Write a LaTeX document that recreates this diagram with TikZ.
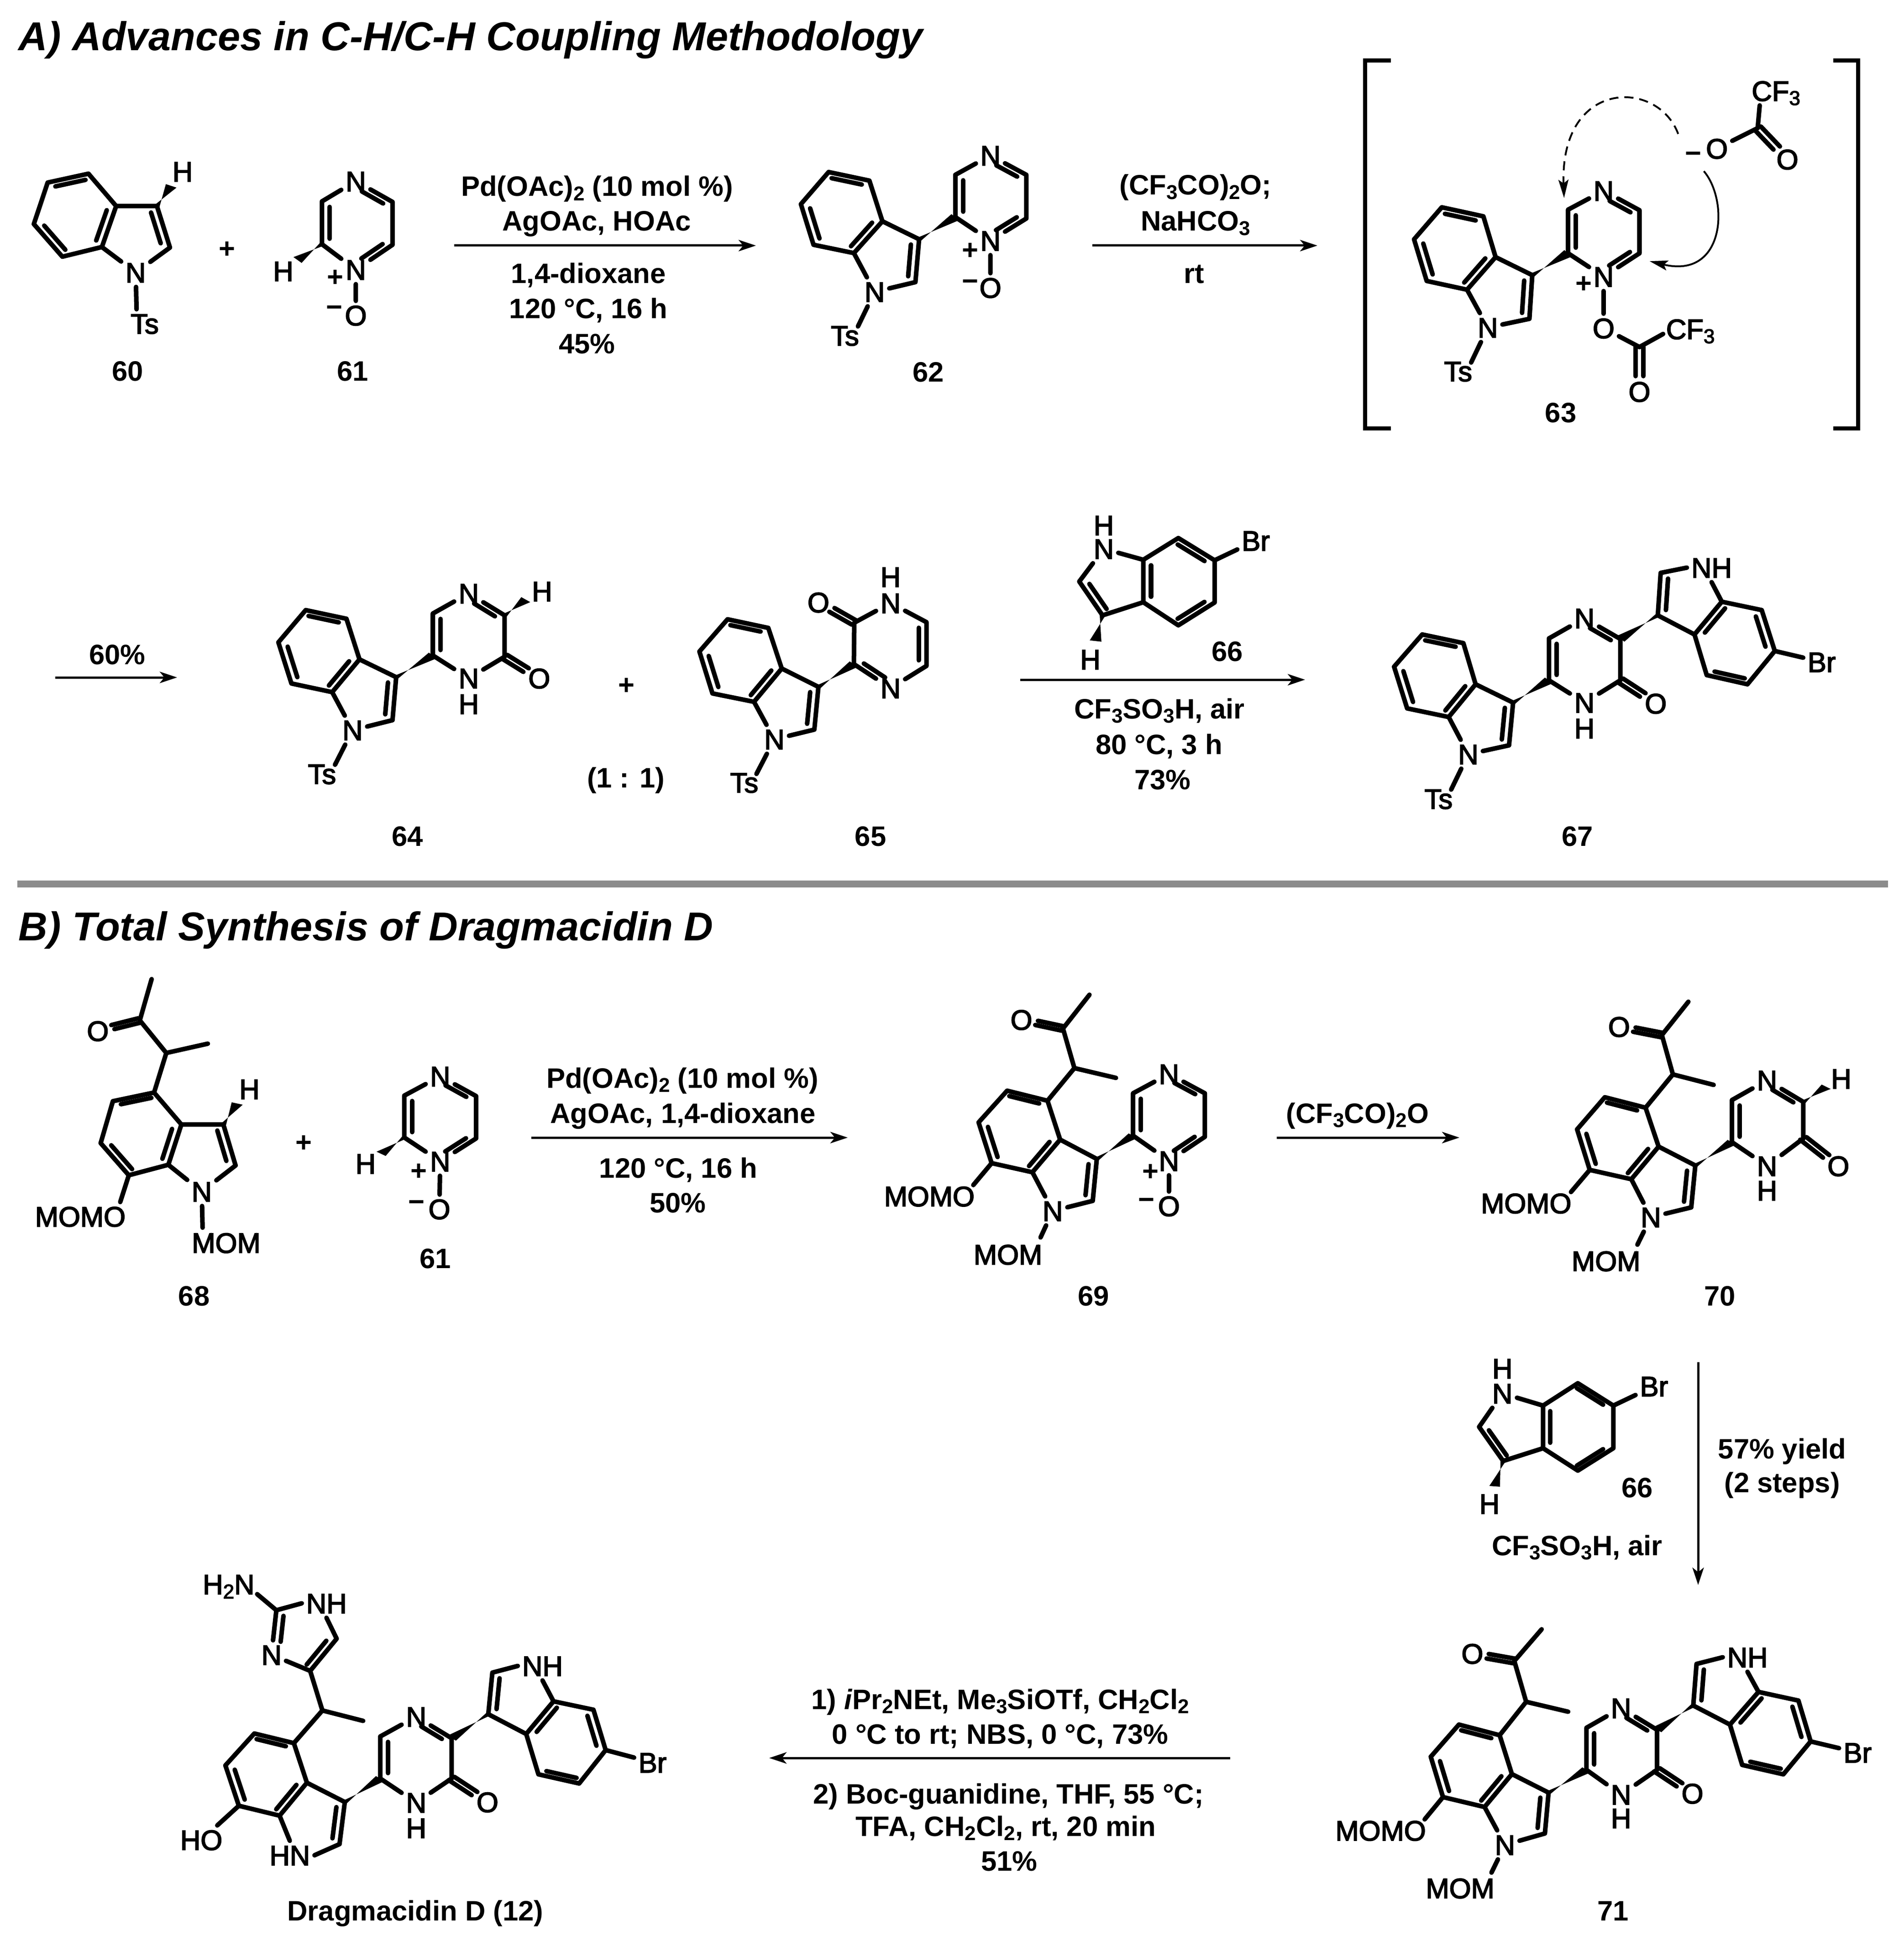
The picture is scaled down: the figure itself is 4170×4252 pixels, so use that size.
\documentclass[tikz,border=0pt]{standalone}
\usepackage{fontspec}
\setmainfont{Liberation Sans}
\newfontfamily\chemfont{Liberation Sans}[FakeBold=3]
\usetikzlibrary{arrows.meta,calc}

\newcommand{\low}[1]{\raisebox{-0.28ex}{\fontsize{12.5}{12.5}\selectfont #1}}
\tikzset{
  view/.style n args={4}{shift={(#1,#2)},xscale=#3,yscale=#4},
  bondline/.style={line width=0.1cm,line cap=round,line join=round},
  atom/.style={inner sep=0.09cm,text height=0.44cm,text depth=0pt,font=\chemfont\fontsize{17.5}{21}\selectfont},
  charge/.style={inner sep=0pt,text height=0.40cm,text depth=0pt,font=\bfseries\fontsize{17.5}{21}\selectfont},
  cmpd/.style={inner sep=0pt,font=\bfseries\fontsize{17.5}{21}\selectfont},
  reag/.style={anchor=base,inner sep=0pt,font=\bfseries\fontsize{17.5}{21}\selectfont},
  heading/.style={anchor=base west,inner sep=0pt,font=\bfseries\itshape\fontsize{25.1}{30}\selectfont},
  rxn/.style={line width=0.05cm,-{Stealth[length=0.38cm,width=0.25cm,inset=0.1cm]}},
  curly/.style={line width=0.04cm,-{Stealth[length=0.4cm,width=0.22cm,inset=0.08cm]}},
  bracket/.style={line width=0.09cm,line cap=butt,line join=miter},
}
\newcommand{\place}[2]{\foreach \n/\x/\y in {#2}{\coordinate (#1\n) at (\x,\y);}}
\newcommand{\dbl}[3]{\draw[bondline] ($(#1)!.13!(#2)!0.19cm!#3:(#2)$) -- ($(#1)!.87!(#2)!0.19cm!#3:(#2)$);}
\newcommand{\dbln}[3]{\draw[bondline] ($(#1)!.12!(#2)!0.19cm!#3:(#2)$) -- ($(#1)!.70!(#2)!0.19cm!#3:(#2)$);}
\newcommand{\cdbl}[2]{\draw[bondline,shorten >=0.34cm] ($(#1)!0.095cm!90:(#2)$) -- ($(#2)!0.095cm!-90:(#1)$);
  \draw[bondline,shorten >=0.34cm] ($(#1)!0.095cm!-90:(#2)$) -- ($(#2)!0.095cm!90:(#1)$);}
\newcommand{\wdg}[2]{\fill ($(#1)!0.07cm!90:(#2)$) -- ($(#2)!0.145cm!90:(#1)$) -- ($(#2)!0.145cm!-90:(#1)$) -- ($(#1)!0.07cm!-90:(#2)$) -- cycle;}
% indole, N-bonds go to #2 and #3
\newcommand{\indole}[3]{\draw[bondline] (#1bF) -- (#1bA) -- (#1bB) -- (#1bC) -- (#1bD) -- (#1bE) -- (#1bF) -- (#1cT) -- (#1cU) -- (#2);
  \draw[bondline] (#1bE) -- (#3);
  \dbl{#1bA}{#1bB}{90} \dbl{#1bC}{#1bD}{90} \dbl{#1bE}{#1bF}{90} \dbl{#1cT}{#1cU}{-90}}
% bromoindole
\newcommand{\brindole}[3]{\draw[bondline] (#1iA) -- (#1iB) -- (#1iC) -- (#1iD) -- (#1iE) -- (#1iF) -- (#1iA);
  \draw[bondline] (#1iF) -- (#1iT) -- (#1iU) -- (#2);
  \draw[bondline] (#1iA) -- (#3);
  \draw[bondline] (#1iC) -- (#1br);
  \dbl{#1iA}{#1iF}{90} \dbl{#1iB}{#1iC}{-90} \dbl{#1iD}{#1iE}{-90} \dbl{#1iT}{#1iU}{-90}}
% pyrazine rings
\newcommand{\pyrox}[1]{\draw[bondline] (#1pN) -- (#1pD) -- (#1pC) -- (#1pM) -- (#1pB) -- (#1pA) -- (#1pN);
  \dbl{#1pD}{#1pC}{90} \dbln{#1pB}{#1pM}{-90} \dbln{#1pA}{#1pN}{90}}
\newcommand{\pyrone}[1]{\draw[bondline] (#1pN) -- (#1pD) -- (#1pC) -- (#1pM) -- (#1pB) -- (#1pA) -- (#1pN);
  \dbl{#1pD}{#1pC}{90} \dbln{#1pA}{#1pN}{90} \cdbl{#1pB}{#1pO}}
% butanone side chain
\newcommand{\sidechain}[1]{\draw[bondline] (#1bA) -- (#1cH) -- (#1cK) -- (#1mB);
  \draw[bondline] (#1cH) -- (#1mA);
  \cdbl{#1cK}{#1oK}}

\begin{document}
\begin{tikzpicture}[x=0.01cm,y=-0.01cm]
\useasboundingbox (0,0) rectangle (4170,4252);

% headings and separator
\node[heading] (headA) at (40,111) {A) Advances in C-H/C-H Coupling Methodology};
\node[heading] (headB) at (40,2060) {B) Total Synthesis of Dragmacidin D};
\fill[black!45] (38,1929) rectangle (4136,1944);

% 60 and 61
\begin{scope}[view={0}{0}{.8929}{.6059}]
  \place{m60}{bA/217/628,bB/117/660,bC/83/810,bD/153/928,bE/250/893,bF/285/745,cT/385/745,cU/417/895,wH/420/672,eT/335/1118}
  \node[atom] (m60nI) at (333,985) {N};
  \node[atom] (m60h) at (448,620) {H};
  \node[atom] (m60ts) at (355,1170) {Ts};
  \indole{m60}{m60nI}{m60nI}
  \draw[bondline] (m60nI) -- (m60eT);
  \wdg{m60cT}{m60wH}
  \node[cmpd] (l60) at (313,1342) {60};
  \node[charge] (plusA) at (557,900) {+};
  \place{m61}{pD/790/728,pC/790/883,pB/963/885,pA/963/730,wH/730/940}
  \node[atom] (m61pN) at (873,655) {N};
  \node[atom] (m61pM) at (873,975) {N};
  \node[atom] (m61o) at (873,1140) {O};
  \node[atom] (m61h) at (695,980) {H};
  \node[charge] (m61p) at (823,1003) {+};
  \node[charge] (m61m) at (820,1112) {−};
  \pyrox{m61}
  \draw[bondline] (m61pM) -- (m61o);
  \wdg{m61pC}{m61wH}
  \node[cmpd] (l61) at (865,1342) {61};
\end{scope}

% first arrow
\coordinate (a1s) at (995,538);
\coordinate (a1e) at (1656,538);
\draw[rxn] (a1s) -- (a1e);
\node[reag] (r1a) at (1308,430) {Pd(OAc)\low{2} (10 mol \%)};
\node[reag] (r1b) at (1307,506) {AgOAc, HOAc};
\node[reag] (r1c) at (1289,620) {1,4-dioxane};
\node[reag] (r1d) at (1289,697) {120 °C, 16 h};
\node[reag] (r1e) at (1286,774) {45\%};

% 62
\begin{scope}[view={1400}{0}{.8929}{.6059}]
  \place{m62}{bA/565/653,bB/465/622,bC/397/738,bD/428/885,bE/527/915,bF/597/800,cT/687/865,cU/678/1020,eT/537/1180,pD/776/632,pC/776/785,pB/950/790,pA/950/632}
  \node[atom] (m62nI) at (578,1055) {N};
  \node[atom] (m62ts) at (505,1213) {Ts};
  \indole{m62}{m62nI}{m62nI}
  \draw[bondline] (m62nI) -- (m62eT);
  \node[atom] (m62pN) at (862,562) {N};
  \node[atom] (m62pM) at (862,870) {N};
  \node[atom] (m62o) at (862,1040) {O};
  \node[charge] (m62p) at (813,905) {+};
  \node[charge] (m62m) at (813,1017) {−};
  \pyrox{m62}
  \draw[bondline] (m62pM) -- (m62o);
  \wdg{m62cT}{m62pC}
  \node[cmpd] (l62) at (710,1345) {62};
\end{scope}

% second arrow
\coordinate (a2s) at (2393,538);
\coordinate (a2e) at (2886,538);
\draw[rxn] (a2s) -- (a2e);
\node[reag] (r2a) at (2619,427) {(CF\low{3}CO)\low{2}O;};
\node[reag] (r2b) at (2619,506) {NaHCO\low{3}};
\node[reag] (r2c) at (2616,620) {rt};

% 63 in brackets
\begin{scope}[view={2770}{0}{.8929}{.6378}]
  \place{brL}{a/310/207,b/247/207,c/247/1472,d/310/1472}
  \place{brR}{a/1395/207,b/1457/207,c/1457/1472,d/1395/1472}
  \draw[bracket] (brLa) -- (brLb) -- (brLc) -- (brLd);
  \draw[bracket] (brRa) -- (brRb) -- (brRc) -- (brRd);
  \place{m63}{bA/537/743,bB/435/712,bC/367/822,bD/398/965,bE/497/995,bF/567/883,cT/657/945,cU/650/1095,eT/507/1245,pD/745/720,pC/745/870,pB/920/870,pA/920/722,cA/920/1192,eF/978/1147,cB/1210/440,eG/1215/362,dS/1015/460,dE/735/680,sS/1078/588,sE/945/897}
  \node[atom] (m63nI) at (548,1125) {N};
  \node[atom] (m63ts) at (475,1275) {Ts};
  \indole{m63}{m63nI}{m63nI}
  \draw[bondline] (m63nI) -- (m63eT);
  \node[atom] (m63pN) at (832,655) {N};
  \node[atom] (m63pM) at (832,950) {N};
  \node[atom] (m63o) at (832,1127) {O};
  \node[charge] (m63p) at (783,975) {+};
  \draw[bondline] (m63pN) -- (m63pD) -- (m63pC) -- (m63pM) -- (m63pB) -- (m63pA) -- (m63pN);
  \dbl{m63pD}{m63pC}{90} \dbln{m63pB}{m63pM}{-90} \dbln{m63pA}{m63pN}{90}
  \draw[bondline] (m63pM) -- (m63o) -- (m63cA) -- (m63eF);
  \node[atom] (m63cf) at (1045,1130) {CF\low{3}};
  \node[atom] (m63oA) at (920,1345) {O};
  \cdbl{m63cA}{m63oA}
  \wdg{m63cT}{m63pC}
  \node[charge] (m63m) at (1052,527) {−};
  \node[atom] (m63oB) at (1110,510) {O};
  \node[atom] (m63oC) at (1283,547) {O};
  \node[atom] (m63cg) at (1255,312) {CF\low{3}};
  \draw[bondline] (m63oB) -- (m63cB) -- (m63eG);
  \cdbl{m63cB}{m63oC}
  \draw[curly,dash pattern=on 0.2cm off 0.13cm] (m63dS) .. controls (965,270) and (725,270) .. (m63dE);
  \draw[curly] (m63sS) .. controls (1140,690) and (1130,960) .. (m63sE);
  \node[cmpd] (l63) at (727,1418) {63};
\end{scope}

% third arrow and 64
\coordinate (a3s) at (121,1484);
\coordinate (a3e) at (388,1484);
\draw[rxn] (a3s) -- (a3e);
\node[reag] (r3a) at (257,1455) {60\%};
\begin{scope}[view={0}{1100}{.8929}{.574}]
  \place{m64}{bA/850/445,bB/750/412,bC/683/535,bD/715/692,bE/815/725,bF/882/600,cT/972/668,cU/963/832,eT/822/1002,pD/1062/425,pC/1062/585,pB/1238/590,pA/1238/432,wH/1290/372}
  \node[atom] (m64nI) at (865,870) {N};
  \node[atom] (m64ts) at (790,1037) {Ts};
  \indole{m64}{m64nI}{m64nI}
  \draw[bondline] (m64nI) -- (m64eT);
  \node[atom] (m64pN) at (1150,348) {N};
  \node[atom] (m64pM) at (1150,672) {N};
  \node[atom] (m64hN) at (1150,770) {H};
  \node[atom] (m64pO) at (1323,672) {O};
  \node[atom] (m64h) at (1330,340) {H};
  \pyrone{m64}
  \wdg{m64cT}{m64pC}
  \wdg{m64pA}{m64wH}
  \node[cmpd] (l64) at (1000,1275) {64};
  \node[charge] (plusB) at (1537,700) {+};
\end{scope}
\node[reag] (ratio) at (1371,1725) {(1 : 1)};

% 65 and 66
\begin{scope}[view={1400}{1100}{.8929}{.574}]
  \place{m65}{bA/317/480,bB/217/447,bC/148/570,bD/180/730,bE/282/762,bF/350/635,cT/440/705,cU/430/868,eT/288/1037,pE/528/460,pG/705/458,pH/705/625,pC/527/618}
  \node[atom] (m65nI) at (332,905) {N};
  \node[atom] (m65ts) at (258,1070) {Ts};
  \indole{m65}{m65nI}{m65nI}
  \draw[bondline] (m65nI) -- (m65eT);
  \node[atom] (m65pF) at (617,385) {N};
  \node[atom] (m65hN) at (617,285) {H};
  \node[atom] (m65pN) at (617,710) {N};
  \node[atom] (m65oK) at (440,382) {O};
  \draw[bondline] (m65pE) -- (m65pF) -- (m65pG) -- (m65pH) -- (m65pN) -- (m65pC) -- (m65pE);
  \dbl{m65pG}{m65pH}{-90} \dbln{m65pC}{m65pN}{90}
  \cdbl{m65pE}{m65oK}
  \wdg{m65cT}{m65pC}
  \node[cmpd] (l65) at (568,1275) {65};
  \place{m66}{iA/1237/220,iB/1323/137,iC/1412/222,iD/1412/383,iE/1323/470,iF/1237/382,iT/1137/432,iU/1080/303,wH/1120/530}
  \node[atom] (m66n) at (1140,178) {N};
  \node[atom] (m66hN) at (1140,88) {H};
  \node[atom] (m66br) at (1513,147) {Br};
  \node[atom] (m66h) at (1107,600) {H};
  \brindole{m66}{m66n}{m66n}
  \wdg{m66iT}{m66wH}
  \node[cmpd] (l66) at (1443,570) {66};
\end{scope}

% fourth arrow
\coordinate (a4s) at (2235,1489);
\coordinate (a4e) at (2859,1489);
\draw[rxn] (a4s) -- (a4e);
\node[reag] (r4a) at (2540,1574) {CF\low{3}SO\low{3}H, air};
\node[reag] (r4b) at (2539,1652) {80 °C, 3 h};
\node[reag] (r4c) at (2547,1729) {73\%};

% 67
\begin{scope}[view={2770}{1100}{.8929}{.574}]
  \place{m67}{bA/488/538,bB/387/505,bC/318/628,bD/350/787,bE/452/820,bF/518/695,cT/610/765,cU/600/928,eT/458/1097,pD/698/520,pC/698/680,pB/873/680,pA/873/522,iA/1122/380,iB/1220/412,iC/1252/568,iD/1185/695,iE/1085/660,iF/1055/505,iT/965/432,iU/972/270}
  \node[atom] (m67nI) at (500,962) {N};
  \node[atom] (m67ts) at (427,1132) {Ts};
  \indole{m67}{m67nI}{m67nI}
  \draw[bondline] (m67nI) -- (m67eT);
  \node[atom] (m67pN) at (785,443) {N};
  \node[atom] (m67pM) at (785,765) {N};
  \node[atom] (m67hN) at (785,863) {H};
  \node[atom] (m67pO) at (960,768) {O};
  \pyrone{m67}
  \node[atom] (m67nh) at (1097,250) {NH};
  \node[atom] (m67br) at (1367,610) {Br};
  \brindole{m67}{m67nh.west}{m67nh.south}
  \wdg{m67cT}{m67pC}
  \wdg{m67iT}{m67pA}
  \node[cmpd] (l67) at (768,1275) {67};
\end{scope}

% 68 and 61
\begin{scope}[view={0}{2100}{.8929}{.5102}]
  \place{m68}{bA/378/575,bB/277/612,bC/247/792,bD/316/930,bE/413/885,bF/445/712,cT/548/712,cU/578/888,cH/408/405,mA/510/365,cK/343/265,mB/372/88,wH/582/622,eM/295/1045,eT/497/1155}
  \node[atom] (m68nI) at (495,1000) {N};
  \node[atom] (m68h) at (612,560) {H};
  \node[atom] (m68oK) at (240,310) {O};
  \node[atom] (m68moo) at (197,1107) {MOMO};
  \node[atom] (m68mom) at (555,1220) {MOM};
  \indole{m68}{m68nI}{m68nI}
  \sidechain{m68}
  \draw[bondline] (m68bD) -- (m68eM);
  \draw[bondline] (m68nI) -- (m68eT);
  \wdg{m68cT}{m68wH}
  \node[cmpd] (l68) at (476,1450) {68};
  \node[charge] (plusC) at (745,790) {+};
  \place{n61}{pD/992/588,pC/992/768,pB/1168/772,pA/1168/590,wH/935/838}
  \node[atom] (n61pN) at (1080,505) {N};
  \node[atom] (n61pM) at (1080,870) {N};
  \node[atom] (n61o) at (1078,1075) {O};
  \node[atom] (n61h) at (897,880) {H};
  \node[charge] (n61p) at (1028,912) {+};
  \node[charge] (n61m) at (1022,1045) {−};
  \pyrox{n61}
  \draw[bondline] (n61pM) -- (n61o);
  \wdg{n61pC}{n61wH}
  \node[cmpd] (ln61) at (1068,1288) {61};
\end{scope}

% fifth arrow
\coordinate (a5s) at (1164,2492);
\coordinate (a5e) at (1857,2492);
\draw[rxn] (a5s) -- (a5e);
\node[reag] (r5a) at (1495,2383) {Pd(OAc)\low{2} (10 mol \%)};
\node[reag] (r5b) at (1496,2460) {AgOAc, 1,4-dioxane};
\node[reag] (r5c) at (1486,2580) {120 °C, 16 h};
\node[reag] (r5d) at (1485,2656) {50\%};

% 69
\begin{scope}[view={1400}{2100}{.8929}{.5102}]
  \place{m69}{bA/1002/610,bB/903/567,bC/833/703,bD/865/878,bE/965/917,bF/1033/777,cT/1123/860,cU/1113/1040,cH/1068/470,mA/1170/512,cK/1040/300,mB/1105/155,eM/820/972,eT/985/1197,pD/1212/578,pC/1212/760,pB/1388/765,pA/1388/578}
  \node[atom] (m69nI) at (1015,1083) {N};
  \node[atom] (m69oK) at (938,262) {O};
  \node[atom] (m69moo) at (712,1020) {MOMO};
  \node[atom] (m69mom) at (905,1270) {MOM};
  \indole{m69}{m69nI}{m69nI}
  \sidechain{m69}
  \draw[bondline] (m69bD) -- (m69eM);
  \draw[bondline] (m69nI) -- (m69eT);
  \node[atom] (m69pN) at (1300,495) {N};
  \node[atom] (m69pM) at (1300,868) {N};
  \node[atom] (m69o) at (1300,1062) {O};
  \node[charge] (m69p) at (1255,915) {+};
  \node[charge] (m69m) at (1245,1035) {−};
  \pyrox{m69}
  \draw[bondline] (m69pM) -- (m69o);
  \wdg{m69cT}{m69pC}
  \node[cmpd] (l69) at (1115,1450) {69};
\end{scope}

% sixth arrow
\coordinate (a6s) at (2797,2492);
\coordinate (a6e) at (3197,2492);
\draw[rxn] (a6s) -- (a6e);
\node[reag] (r6a) at (2974,2460) {(CF\low{3}CO)\low{2}O};

% 70
\begin{scope}[view={2770}{2100}{.8929}{.5102}]
  \place{m70}{bA/935/640,bB/835/595,bC/767/733,bD/798/907,bE/900/947,bF/967/807,cT/1057/888,cU/1047/1068,cH/1002/497,mA/1102/542,cK/975/328,mB/1040/185,eM/752/1002,eT/915/1228,pD/1147/607,pC/1147/788,pB/1322/772,pA/1322/615,wH/1378/550}
  \node[atom] (m70nI) at (948,1110) {N};
  \node[atom] (m70oK) at (870,292) {O};
  \node[atom] (m70moo) at (642,1050) {MOMO};
  \node[atom] (m70mom) at (838,1298) {MOM};
  \indole{m70}{m70nI}{m70nI}
  \sidechain{m70}
  \draw[bondline] (m70bD) -- (m70eM);
  \draw[bondline] (m70nI) -- (m70eT);
  \node[atom] (m70pN) at (1233,522) {N};
  \node[atom] (m70pM) at (1233,890) {N};
  \node[atom] (m70hN) at (1233,995) {H};
  \node[atom] (m70pO) at (1408,890) {O};
  \node[atom] (m70h) at (1415,515) {H};
  \pyrone{m70}
  \wdg{m70cT}{m70pC}
  \wdg{m70pA}{m70wH}
  \node[cmpd] (l70) at (1117,1450) {70};
\end{scope}

% 66 again, and the arrow down
\begin{scope}[view={2900}{2900}{.81}{.3827}]
  \place{n66}{iA/593/468,iB/687/340,iC/783/468,iD/783/712,iE/687/840,iF/593/712,iT/485/785,iU/420/590,wH/462/930}
  \node[atom] (n66n) at (483,398) {N};
  \node[atom] (n66hN) at (483,255) {H};
  \node[atom] (n66br) at (893,357) {Br};
  \node[atom] (n66h) at (448,1030) {H};
  \brindole{n66}{n66n}{n66n}
  \wdg{n66iT}{n66wH}
  \node[cmpd] (ln66) at (848,940) {66};
\end{scope}
\coordinate (a7s) at (3720,2984);
\coordinate (a7e) at (3720,3472);
\draw[rxn] (a7s) -- (a7e);
\node[reag] (r7a) at (3904,3195) {57\% yield};
\node[reag] (r7b) at (3904,3269) {(2 steps)};
\node[reag] (r7c) at (3455,3407) {CF\low{3}SO\low{3}H, air};

% 71
\begin{scope}[view={2770}{3400}{.8929}{.5421}]
  \place{m71}{bA/577/740,bB/477/697,bC/408/827,bD/438/990,bE/540/1030,bF/607/897,cT/697/972,cU/688/1137,cH/642/605,mA/745/645,cK/613/440,mB/680/312,eM/393/1080,eT/557/1295,pD/790/710,pC/790/880,pB/963/880,pA/963/718,iA/1212/565,iB/1310/600,iC/1340/765,iD/1273/898,iE/1172/860,iF/1142/697,iT/1052/620,iU/1060/452}
  \node[atom] (m71nI) at (590,1183) {N};
  \node[atom] (m71oK) at (510,410) {O};
  \node[atom] (m71moo) at (285,1125) {MOMO};
  \node[atom] (m71mom) at (480,1358) {MOM};
  \indole{m71}{m71nI}{m71nI}
  \sidechain{m71}
  \draw[bondline] (m71bD) -- (m71eM);
  \draw[bondline] (m71nI) -- (m71eT);
  \node[atom] (m71pN) at (875,630) {N};
  \node[atom] (m71pM) at (875,980) {N};
  \node[atom] (m71hN) at (875,1075) {H};
  \node[atom] (m71pO) at (1050,975) {O};
  \pyrone{m71}
  \node[atom] (m71nh) at (1185,425) {NH};
  \node[atom] (m71br) at (1455,810) {Br};
  \brindole{m71}{m71nh.west}{m71nh.south}
  \wdg{m71cT}{m71pC}
  \wdg{m71iT}{m71pA}
  \node[cmpd] (l71) at (855,1450) {71};
\end{scope}

% last arrow
\coordinate (a8s) at (2695,3851);
\coordinate (a8e) at (1685,3851);
\draw[rxn] (a8s) -- (a8e);
\node[reag] (r8a) at (2191,3744) {1) \textit{i}Pr\low{2}NEt, Me\low{3}SiOTf, CH\low{2}Cl\low{2}};
\node[reag] (r8b) at (2191,3820) {0 °C to rt; NBS, 0 °C, 73\%};
\node[reag] (r8c) at (2209,3951) {2) Boc-guanidine, THF, 55 °C;};
\node[reag] (r8d) at (2203,4022) {TFA, CH\low{2}Cl\low{2}, rt, 20 min};
\node[reag] (r8e) at (2211,4098) {51\%};

% dragmacidin D
\begin{scope}[view={300}{3400}{.8929}{.5421}]
  \place{m12}{bA/385/772,bB/288/733,bC/217/862,bD/250/1025,bE/350/1065,bF/417/932,cT/510/1010,cU/497/1180,cH/455/640,mA/555/682,cI/425/480,cJ/490/350,cL/342/235,eN/295/170,pD/597/745,pC/597/915,pB/772/915,pA/772/752,iA/1022/603,iB/1120/637,iC/1150/800,iD/1085/935,iE/985/898,iF/955/735,iT/862/655,iU/872/487}
  \node[atom] (m12hn) at (375,1225) {HN};
  \node[atom] (m12ho) at (158,1163) {HO};
  \indole{m12}{m12hn.east}{m12hn.north}
  \draw[bondline] (m12bD) -- (m12ho);
  \draw[bondline] (m12bA) -- (m12cH) -- (m12cI);
  \draw[bondline] (m12cH) -- (m12mA);
  \node[atom] (m12nA) at (465,207) {NH};
  \node[atom] (m12nB) at (330,415) {N};
  \node[atom] (m12am) at (225,130) {H\low{2}N};
  \draw[bondline] (m12cI) -- (m12cJ) -- (m12nA.south);
  \draw[bondline] (m12nA.west) -- (m12cL) -- (m12nB) -- (m12cI);
  \draw[bondline] (m12cL) -- (m12eN);
  \dbl{m12cI}{m12cJ}{90} \dbln{m12cL}{m12nB}{90}
  \node[atom] (m12pN) at (685,665) {N};
  \node[atom] (m12pM) at (685,1012) {N};
  \node[atom] (m12hN) at (685,1115) {H};
  \node[atom] (m12pO) at (860,1010) {O};
  \pyrone{m12}
  \node[atom] (m12nh) at (995,460) {NH};
  \node[atom] (m12br) at (1265,850) {Br};
  \brindole{m12}{m12nh.west}{m12nh.south}
  \wdg{m12cT}{m12pC}
  \wdg{m12iT}{m12pA}
  \node[reag] (l12) at (683,1490) {Dragmacidin D (12)};
\end{scope}
\end{tikzpicture}
\end{document}
